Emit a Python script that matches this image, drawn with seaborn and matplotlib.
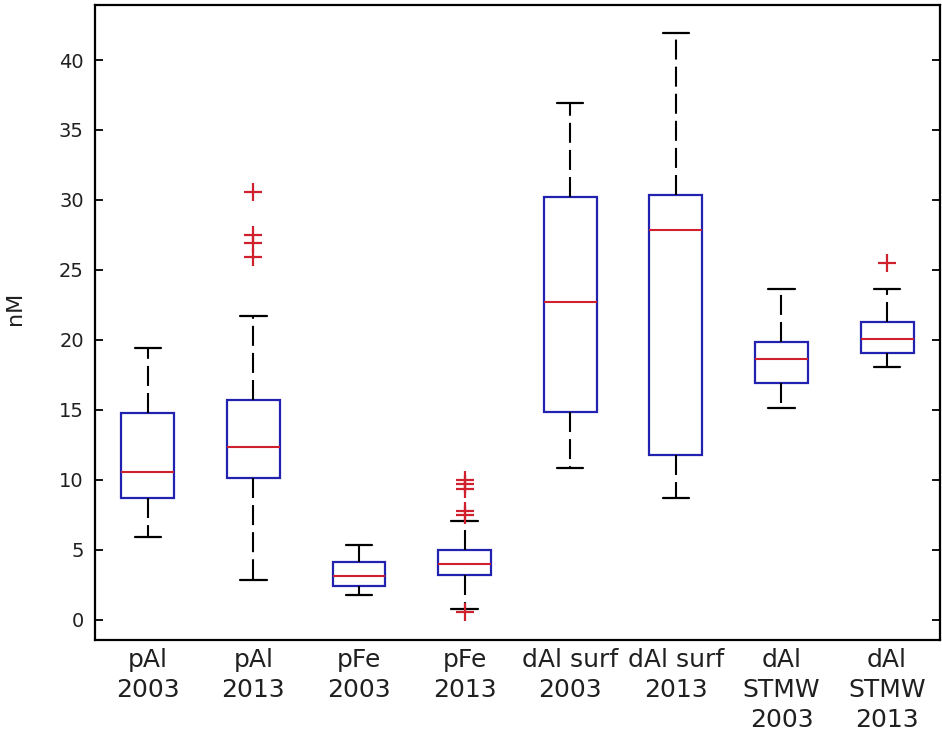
import numpy as np
import pandas as pd
import seaborn as sns
import matplotlib.pyplot as plt

# groups (x axis labels)
groups = ["pAl\n2003", "pAl\n2013", "pFe\n2003", "pFe\n2013",
          "dAl surf\n2003", "dAl surf\n2013", "dAl\nSTMW\n2003", "dAl\nSTMW\n2013"]

# five-number summary (nM)
whisker_lo = [5.95, 2.86, 1.76, 0.78, 10.83, 8.7, 15.14, 18.1]
q1 = [8.71, 10.12, 2.43, 3.24, 14.88, 11.81, 16.95, 19.05]
median = [10.55, 12.38, 3.14, 4.02, 22.7, 27.86, 18.64, 20.05]
q3 = [14.75, 15.7, 4.12, 4.98, 30.2, 30.33, 19.88, 21.26]
whisker_hi = [19.45, 21.7, 5.38, 7.05, 36.9, 41.95, 23.64, 23.64]

# outliers
outlier_group = ["pAl\n2013"] * 4 + ["pFe\n2013"] * 6 + ["dAl\nSTMW\n2013"]
outlier_value = [30.6, 27.5, 26.9, 25.9,
                 10.0, 9.7, 9.35, 7.75, 7.5, 0.6,
                 25.48]

rows = []
for g, a, b, c, d, e in zip(groups, whisker_lo, q1, median, q3, whisker_hi):
    for v in (a, b, c, d, e):
        rows.append({"group": g, "nM": v})
df = pd.DataFrame(rows)
out = pd.DataFrame({"group": outlier_group, "nM": outlier_value})

blue = "#2222b0"
red = "#d0202e"

sns.set_style("ticks")
plt.rcParams["font.family"] = ["DejaVu Sans"]
plt.rcParams["text.color"] = "black"
plt.rcParams["xtick.color"] = "black"
plt.rcParams["ytick.color"] = "black"

fig = plt.figure(figsize=(9.42, 7.44), dpi=100)
ax = fig.add_axes([0.1008, 0.1398, 0.897, 0.8535])

sns.boxplot(data=df, x="group", y="nM", order=groups, whis=(0, 100), width=0.5,
            showfliers=False, ax=ax,
            boxprops=dict(facecolor="white", edgecolor=blue, linewidth=1.6),
            medianprops=dict(color=red, linewidth=1.5),
            whiskerprops=dict(color="black", linestyle=(0, (9.6, 3.4)), linewidth=1.5),
            capprops=dict(color="black", linewidth=1.6))

sns.stripplot(data=out, x="group", y="nM", order=groups, jitter=False,
              marker="+", color=red, edgecolor=red, size=13, linewidth=1.6, ax=ax)

ax.set_xlim(-0.5, 7.5)
ax.set_ylim(-1.43, 43.93)
ax.set_yticks(np.arange(0, 41, 5))
ax.tick_params(axis="y", direction="in", length=6, width=1.3, labelsize=14,
               right=True, pad=8, labelcolor="#202020")
ax.tick_params(axis="x", length=0, pad=6, labelcolor="#202020")
ax.set_xticklabels(groups, family=["Liberation Sans Narrow", "DejaVu Sans"],
                   fontsize=18, linespacing=1.32, va="top")
for s in ax.spines.values():
    s.set_visible(True)
    s.set_linewidth(1.6)
    s.set_color("black")

ax.set_xlabel("")
ax.set_ylabel("")
fig.text(0.016, 0.586, "nM", rotation=90, fontsize=16, ha="center", va="center",
         color="#202020")

fig.savefig("out.png", dpi=100)
